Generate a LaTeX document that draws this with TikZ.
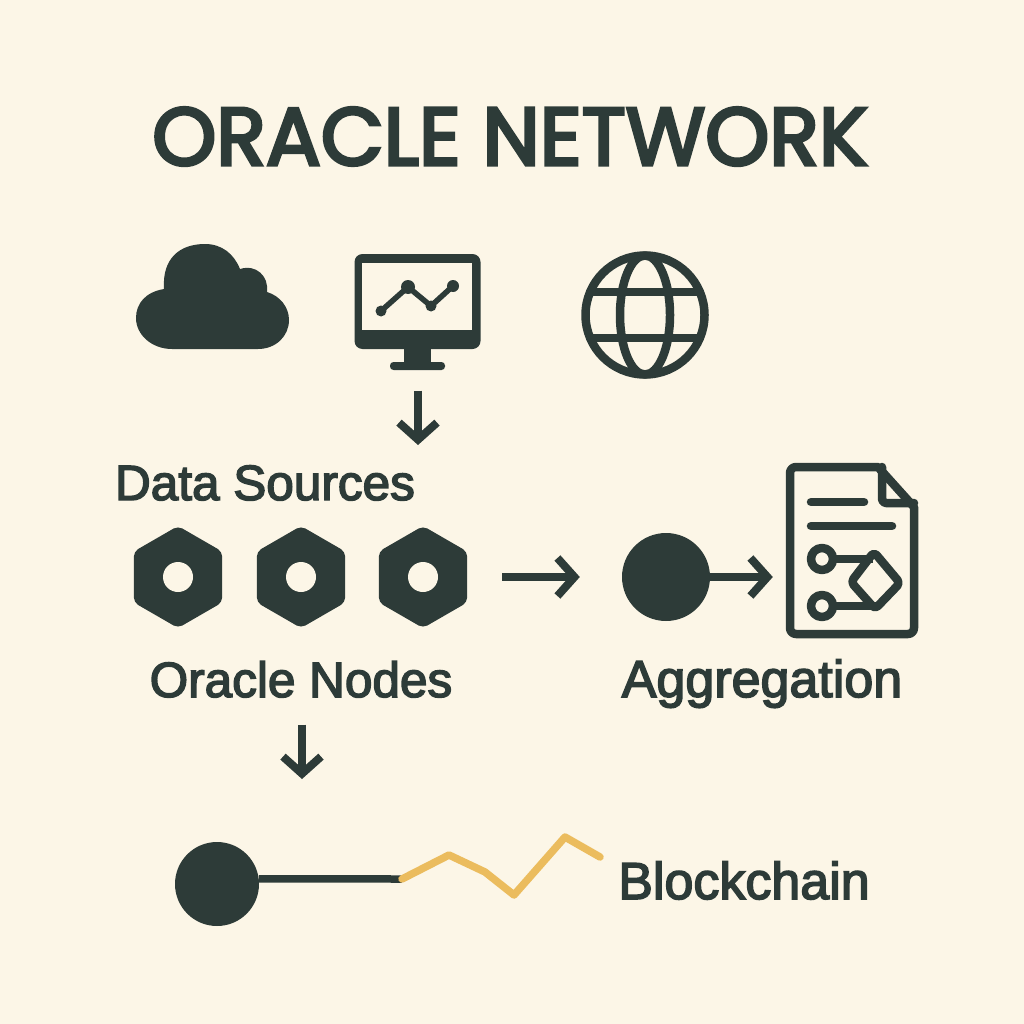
\documentclass[tikz,border=0pt]{standalone}
\usepackage{fontspec}
\usepackage{tikz}
\usetikzlibrary{shapes,arrows.meta}
\newfontfamily\titlefont[FakeBold=4]{Poppins}
\newfontfamily\labelfont[FakeBold=3]{Liberation Sans}
\definecolor{inkgreen}{HTML}{2D3B38}
\definecolor{paper}{HTML}{FCF6E7}
\definecolor{chaingold}{HTML}{EBBC5E}

\begin{document}
\begin{tikzpicture}[x=1pt,y=-1pt]
    \tikzstyle{icon}=[draw=inkgreen,line width=8.5pt,line join=round,line cap=round]
    \tikzstyle{hexnode}=[regular polygon,regular polygon sides=6,shape border rotate=30,minimum size=102pt,inner sep=0pt,fill=inkgreen,rounded corners=5pt]
    \tikzstyle{hole}=[circle,minimum size=30pt,inner sep=0pt,fill=paper]
    \tikzstyle{dot}=[circle,inner sep=0pt,fill=inkgreen]
    \tikzstyle{box}=[inner sep=0pt]
    \tikzstyle{label text}=[inner sep=0pt,anchor=base,text=inkgreen,font=\labelfont\fontsize{49.5}{50}\selectfont]
    \tikzstyle{label wide}=[label text,font=\labelfont\fontsize{52}{53}\selectfont]
    \tikzstyle{flow}=[draw=inkgreen,line width=8pt,-{Straight Barb[length=17pt,width=38pt,line width=8pt]}]

    \fill[paper] (0,0) rectangle (1024,1024);
    \useasboundingbox (0,0) rectangle (1024,1024);

    \node[inner sep=0pt,anchor=base,text=inkgreen,font=\titlefont\fontsize{81.5}{83}\selectfont] (title) at (510,165) {ORACLE NETWORK};

    % cloud
    \fill[inkgreen] (172,349) .. controls (152,349) and (136,335) .. (136,318)
        .. controls (136,303) and (146,292) .. (164,289)
        .. controls (162,258) and (180,244) .. (205,244)
        .. controls (222,244) and (234,254) .. (240,269)
        .. controls (256,264) and (269,276) .. (267,292)
        .. controls (280,296) and (289,307) .. (289,320)
        .. controls (289,336) and (276,349) .. (258,349) -- cycle;

    % monitor
    \node[box,minimum width=126pt,minimum height=115pt] (monitor) at (418,312) {};
    \fill[inkgreen,rounded corners=8pt] (354.5,254) rectangle (480.5,349);
    \fill[paper] (362,263) rectangle (472,330);
    \fill[inkgreen] (404,345) rectangle (431,365);
    \fill[inkgreen,rounded corners=3.5pt] (390,362) rectangle (445,370);
    \draw[draw=inkgreen,line width=5.5pt] (381,311) -- (408,287) -- (431,306) -- (453,286);
    \fill[inkgreen] (381,311) circle (5.5pt) (408,287) circle (7pt) (431,306) circle (5.5pt) (453,286) circle (6pt);

    % globe
    \draw[icon] (645,315) circle (59.5pt);
    \draw[icon] (645,315) ellipse (25pt and 59.5pt);
    \draw[icon,line cap=butt] (590,292) -- (700,292) (590,338) -- (700,338);

    \node[label text] (sources) at (265,500) {Data Sources};
    \coordinate (sourcestip) at (418,445);
    \draw[flow,shorten <=21pt] (monitor.south) -- (sourcestip);

    \foreach \name/\x in {hexa/178,hexb/301,hexc/423} {
        \node[hexnode] (\name) at (\x,577) {};
        \node[hole] at (\name) {};
    }
    \node[dot,minimum size=88pt] (aggdot) at (666,577) {};
    \draw[flow,shorten <=35pt,shorten >=42pt] (hexc) -- (aggdot);

    % document
    \node[box,minimum width=132pt,minimum height=175pt] (document) at (852,550.5) {};
    \draw[icon] (797,467) -- (878,467) -- (914,507) -- (914,627) [rounded corners=6pt] -- (914,634) -- (790,634) -- (790,467) -- (800,467);
    \draw[icon,rounded corners=4pt] (882,467) -- (882,503) -- (914,503);
    \draw[icon] (811,502) -- (864,502) (811,526) -- (892,526);
    \draw[icon,line cap=butt] (822,559) circle (11pt) (822,606) circle (11pt);
    \draw[icon,line cap=butt] (833,559) -- (873,559) (833,606) -- (877,606);
    \draw[icon,rounded corners=4pt] (874,552) -- (900,583) -- (875,609) -- (851,582) -- cycle;
    \draw[flow,shorten >=13pt] (aggdot) -- (aggdot -| document.west);

    \node[label text] (oracle) at (301,697) {Oracle Nodes};
    \node[label wide] (aggregation) at (762,697) {Aggregation};
    \coordinate (oracletip) at (302,779);
    \draw[flow,shorten <=27pt] (oracle.south -| oracletip) -- (oracletip);

    % chain
    \node[dot,minimum size=84pt] (chaindot) at (217,884) {};
    \coordinate (chainend) at (402,879);
    \draw[draw=inkgreen,line width=7.5pt] (chaindot.7) -- (chainend);
    \draw[draw=chaingold,line width=7.5pt,line cap=round,line join=round] (chainend) -- (449,855) -- (485,872) -- (514,895) -- (565,837) -- (600,857);
    \node[label wide] (blockchain) at (744,899) {Blockchain};
\end{tikzpicture}
\end{document}
